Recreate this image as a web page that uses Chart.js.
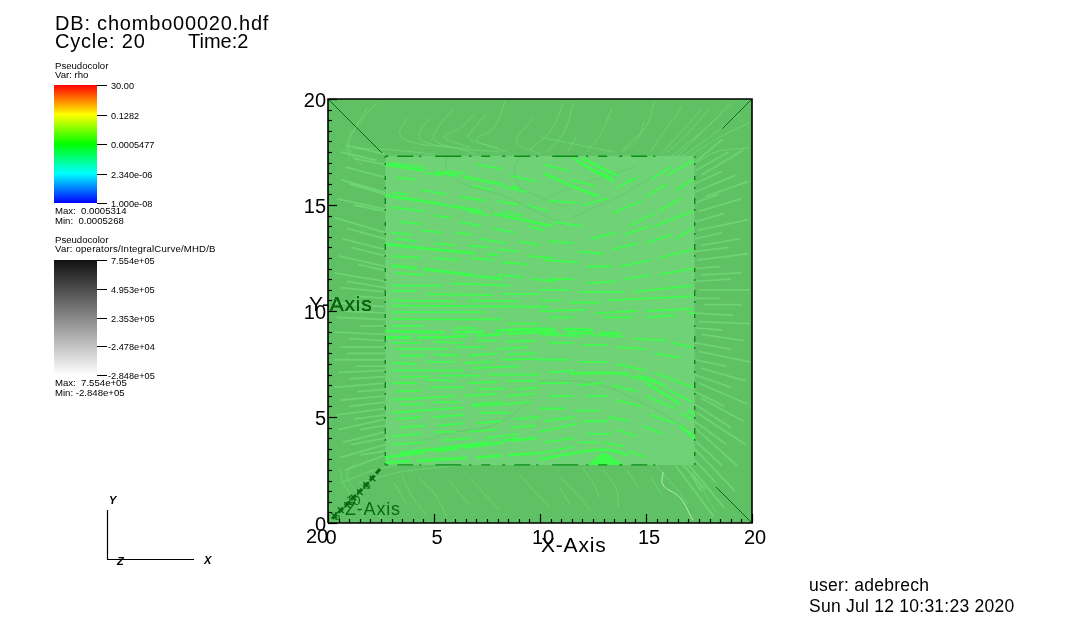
<!DOCTYPE html>
<html>
<head>
<meta charset="utf-8">
<style>
  html, body { margin: 0; padding: 0; background: #fff; }
  canvas { display: block; }
</style>
<script src="https://cdn.jsdelivr.net/npm/chart.js@4/dist/chart.umd.js"></script>
</head>
<body>
<canvas id="plot" width="1080" height="622"></canvas>
<script>
// axis labels
const axisLabels = [0, 5, 10, 15, 20];

// legend texts
const rhoTicks = ['30.00', '0.1282', '0.0005477', '2.340e-06', '1.000e-08'];
const curveTicks = ['7.554e+05', '4.953e+05', '2.353e+05', '-2.478e+04', '-2.848e+05'];

// the two nested squares of the volume
const outerTop = [[0, 20], [20, 20]];
const innerTop = [[2.7, 17.3], [17.3, 17.3]];
const frame = [[0, 0], [20, 0], [20, 20], [0, 20], [0, 0]];

// box edges seen through the field lines
const flatEdges = [
  [[2.7, 17.3], [15.9, 17.3]],
  [[2.7, 2.74], [15.9, 2.74]]
];
const upEdges = [
  [[2.7, 2.74], [2.7, 17.3]],
  [[17.3, 2.74], [17.3, 17.3]]
];
const cornerEdges = [
  [[0, 20], [2.55, 17.45]],
  [[20, 20], [18.6, 18.6]],
  [[20, 0], [18.3, 1.7]]
];
const zAxisLine = [[0.2, 0.2], [0.9, 0.9], [1.7, 1.7], [2.5, 2.6]];
const zAxisTicks = [[0.3, 0.35], [0.6, 0.6], [0.9, 0.85], [1.2, 1.2], [1.5, 1.45], [1.8, 1.8], [2.1, 2.1]];

// pale lines left and right of the box, x1 y1 x2 y2
const sideRows = [
  [0.9, 17.8, 2.7, 17.4], [0.6, 17.5, 2.3, 17.1], [1.2, 17.2, 2.7, 16.9], [0.8, 16.8, 2.7, 16.3],
  [0.6, 16.2, 2.7, 15.6], [1, 16, 2.7, 15.5], [0.4, 15.3, 2.7, 14.8], [1.2, 15, 2.7, 14.7],
  [0.3, 14.4, 2.7, 13.7], [0.9, 13.9, 2.7, 13.4], [0.7, 13.4, 2.7, 12.9], [1.1, 13, 2.7, 12.6],
  [0.5, 12.6, 2.7, 12.1], [1.4, 12.2, 2.7, 11.9], [0.3, 11.8, 2.7, 11.4], [0.9, 11.4, 2.7, 11.1],
  [0.6, 11.1, 2.7, 10.9], [1.3, 10.7, 2.7, 10.6], [0.2, 10.4, 2.7, 10.2], [0.8, 10, 2.7, 9.9],
  [0.4, 9.7, 2.7, 9.6], [1.5, 9.3, 2.7, 9.3], [0.3, 9, 2.7, 8.9], [1, 8.7, 2.7, 8.6],
  [0.6, 8.3, 2.7, 8.3], [0.9, 8, 2.7, 8], [0.3, 7.7, 2.7, 7.7], [1.3, 7.4, 2.7, 7.4],
  [0.5, 7.1, 2.7, 7.2], [1, 6.8, 2.7, 6.9], [0.3, 6.4, 2.7, 6.6], [1.4, 6.2, 2.7, 6.3],
  [0.6, 5.8, 2.7, 6], [1, 5.5, 2.7, 5.7], [0.4, 5.1, 2.7, 5.4], [1.2, 4.9, 2.7, 5.1],
  [0.5, 4.4, 2.7, 4.9], [1.5, 4.4, 2.7, 4.6], [0.7, 3.8, 2.7, 4.3], [1.1, 3.7, 2.7, 4],
  [0.6, 3.1, 2.7, 3.7], [1.5, 3.2, 2.7, 3.4], [0.8, 2.5, 2.7, 3.2],
  [17.3, 17, 18.6, 18.1], [17.3, 16.6, 18.9, 17.5], [17.6, 16.4, 19.6, 17.6], [17.3, 16, 18.6, 16.6],
  [17.3, 15.6, 19.2, 16.4], [17.8, 15.4, 19.8, 16.1], [17.3, 15.1, 18.4, 15.5], [17.5, 14.7, 19.5, 15.3],
  [17.3, 14.2, 18.7, 14.6], [17.4, 13.8, 19.8, 14.3], [17.3, 13.4, 18.6, 13.7], [17.6, 13.1, 19.4, 13.4],
  [17.3, 12.8, 18.9, 13], [17.4, 12.4, 19.8, 12.7], [17.3, 12, 18.5, 12.1], [17.6, 11.7, 19.5, 11.8],
  [17.3, 11.4, 19, 11.5], [17.5, 11, 19.9, 11], [17.3, 10.6, 18.5, 10.6], [17.7, 10.3, 19.5, 10.3],
  [17.3, 9.9, 19.1, 9.8], [17.5, 9.5, 19.9, 9.4], [17.3, 9.2, 18.6, 9.1], [17.6, 8.9, 19.6, 8.6],
  [17.3, 8.5, 19, 8.2], [17.5, 8.1, 19.9, 7.6], [17.3, 7.7, 18.8, 7.4], [17.6, 7.3, 19.7, 6.7],
  [17.3, 7, 19, 6.4], [17.5, 6.6, 19.8, 5.6], [17.3, 6.2, 18.7, 5.5], [17.6, 5.9, 19.6, 4.8],
  [17.3, 5.6, 19, 4.5], [17.4, 5.2, 19.7, 3.7], [17.3, 4.8, 18.8, 3.7], [17.3, 4.5, 19.3, 2.7],
  [17.2, 4, 18.6, 2.7], [17.2, 3.6, 19.2, 1.5], [17, 3.3, 18.3, 1.9], [16.8, 3, 18.7, 0.7],
  [16.6, 2.9, 17.8, 1.6], [16.4, 2.7, 18.2, 0.3], [17, 2.5, 17.6, 1.5], [16.8, 4.1, 17.3, 3.7]
];

// hooks above the box
const topLines = [
  [[1.84, 19.6], [1, 18], [1.1, 17.4], [1.6, 16.9]],
  [[2.3, 19.8], [1.5, 18.9], [0.9, 18], [1, 17.2]],
  [[3.7, 19.1], [3.4, 18.3], [4.2, 17.9], [5.9, 17.7], [7, 17.4]],
  [[4.8, 19.1], [4.3, 18.4], [4.5, 18], [5.8, 17.7]],
  [[5.9, 19.5], [5.3, 18.8], [5, 18.1], [6.1, 17.7], [8.1, 17.5]],
  [[6.9, 19.3], [6.2, 18.6], [5.5, 18.2], [6.7, 17.7]],
  [[7.5, 19.3], [6.7, 18.4], [6.7, 18.1], [8, 17.7]],
  [[8.4, 20], [7.8, 18.6], [7, 18.1], [8.4, 17.5]],
  [[9.7, 19.1], [8.9, 18], [10, 17.4]],
  [[11.1, 19.8], [10.5, 18.5], [9.5, 17.6]],
  [[11.6, 19.8], [11.1, 18.4], [10.3, 17.5]],
  [[11.7, 18.2], [11.3, 17.5]],
  [[13.4, 19.6], [12.9, 18.4], [12.2, 17.5]],
  [[14.9, 18.9], [14.6, 18.1], [13.9, 17.5]],
  [[15.4, 19.9], [15, 18.7], [14.2, 17.9], [13.8, 17.5]],
  [[16.7, 19.6], [15.8, 18.4], [15.2, 17.5]],
  [[18, 19.6], [17.1, 18.5], [16, 17.5]],
  [[19, 19.8], [17.7, 18.5], [16.5, 17.3]],
  [[19.9, 18.9], [18.3, 18.1], [16.9, 17.2]],
  [[19.9, 17.7], [18.3, 17.5], [17.4, 17]],
  [[17.6, 19.5], [16.8, 18.6], [15.7, 17.4]],
  [[18.6, 19.3], [17.2, 18.1], [16.2, 17.3]],
  [[19.4, 19.3], [18, 18.2], [16.7, 17.3]],
  [[1.2, 17.7], [3, 17.6], [5, 17.4]],
  [[10, 18.2], [11.5, 17.9], [13.5, 17.5]]
];

// hooks below the box
const bottomLines = [
  [[0.6, 2.5], [0.7, 1.9], [1.4, 0.9], [1.7, 0.3]],
  [[1.3, 2.9], [0.9, 2.2], [1.7, 1.1], [2.6, 0.15]],
  [[3.1, 1.9], [3.7, 0.9]],
  [[3.5, 2.2], [4, 1.2], [4.7, 0.3]],
  [[4.3, 2.1], [5, 1.4], [5.6, 0.3]],
  [[5.7, 2], [6.7, 0.85]],
  [[6.7, 2.1], [8.1, 0.6]],
  [[9, 2.3], [10.5, 0.7]],
  [[10.9, 2.2], [11.7, 1.4], [12.4, 0.6]],
  [[10.9, 1.7], [11.4, 0.9]],
  [[12, 2.6], [12.5, 1.9], [12.8, 1.2]],
  [[13, 2.5], [13.6, 1.6], [13.7, 0.75]],
  [[14.1, 2.5], [14.6, 1.7]],
  [[15.2, 2.2], [15.7, 1.4]],
  [[17.2, 2.4], [18.3, 0.5]],
  [[0.6, 1.9], [2.6, 2.6], [5, 2.8], [8.1, 3.1]],
  [[1.5, 1.9], [3.4, 2.4], [6, 2.7]],
  [[15.4, 2.8], [16.2, 1.9], [17, 0.9]]
];
const brightHook = [[15.8, 2.4], [15.8, 1.8], [16.6, 1.2], [17.2, 0.15]];

// bright field lines inside the box, x1 y1 x2 y2
const brightRows = [
  // upper left
  [2.9, 17, 4.5, 16.8], [5.5, 16.6, 6.5, 16.5], [7, 16.9, 8.2, 16.7], [8.6, 16.4, 9.8, 16.1],
  [3.2, 16.3, 4.2, 16.2], [4.6, 16.5, 5.4, 16.4], [6.8, 15.9, 7.8, 15.7], [8.2, 15.9, 9.4, 15.6],
  [3, 15.6, 3.8, 15.5], [4.4, 15.7, 5.6, 15.5], [6.2, 15.4, 7.4, 15.2], [8, 15.2, 9, 15],
  [9.4, 15, 10.4, 14.7], [3, 14.9, 4.6, 14.7], [5, 15.1, 6, 14.9], [6.6, 14.7, 7.6, 14.5],
  [8.2, 14.7, 9.2, 14.5], [3.4, 14.2, 4.4, 14.1], [5, 14.5, 5.8, 14.4], [6.2, 14.2, 7.2, 14],
  [7.8, 13.9, 8.8, 13.7], [9.4, 14, 10.2, 13.8], [3, 13.7, 4, 13.6], [4.4, 13.8, 5.4, 13.7],
  [6, 13.7, 6.8, 13.6], [7.2, 13.4, 8.4, 13.2], [9, 13.3, 10, 13.1], [3.2, 13.4, 4.2, 13.3],
  [5, 13.2, 6, 13.1], [6.6, 13.1, 7.6, 13], [8, 12.9, 9, 12.8], [9.4, 12.6, 10.6, 12.5],
  [3, 12.6, 4.4, 12.5], [5, 12.5, 6.2, 12.4], [6.8, 12.5, 7.8, 12.4], [8.2, 12.3, 9.4, 12.2],
  [3.2, 11.8, 4.6, 11.7], [5, 11.9, 6, 11.8], [6.4, 11.7, 7.4, 11.6], [8, 11.7, 9.2, 11.6],
  [9.6, 11.5, 10.8, 11.4], [3, 11.2, 5.4, 11.2], [5.8, 11.3, 8.6, 11.2], [3, 10.95, 4.2, 10.95],
  [4.6, 10.8, 7.8, 10.75], [8.2, 10.8, 10, 10.8], [3, 10.5, 6, 10.45], [6.6, 10.5, 9, 10.45],
  [3, 10.25, 10.4, 10.2],
  // upper right
  [10.2, 16.9, 11.4, 16.6], [12, 16.9, 13.4, 16.3], [11.4, 16.2, 12.6, 15.9], [13.6, 15.8, 14.6, 16.3],
  [10.4, 15.2, 11.8, 15.1], [12, 15, 13.2, 15.3], [13.4, 14.6, 14.8, 15.2], [15, 15.4, 16, 16],
  [16, 16.4, 17.2, 17.1], [15.2, 16.2, 16.2, 16.8], [14.2, 14, 15.4, 14.6], [15.6, 14.7, 16.6, 15.3],
  [16.4, 15.7, 17.2, 16.2], [10.6, 14.2, 12, 14], [12.4, 13.4, 13.6, 13.7], [14, 13.6, 15.2, 14],
  [15.4, 14, 17.2, 14.7], [10.4, 13.3, 11.6, 13.2], [11.8, 12.8, 13, 12.7], [13.4, 12.9, 14.6, 13.2],
  [15, 13.2, 16.2, 13.6], [16.4, 13.4, 17.2, 13.9], [10.2, 12.4, 11.8, 12.3], [12.2, 12.1, 13.4, 12.1],
  [13.8, 12.1, 15.2, 12.4], [15.6, 12.5, 17.2, 12.9], [10.4, 11.5, 11.6, 11.5], [12.2, 11.3, 13.6, 11.4],
  [14, 11.5, 15.2, 11.7], [15.6, 11.7, 17.2, 12], [10, 11, 11.4, 11], [11.8, 10.9, 14, 10.9],
  [14.4, 10.9, 17.2, 11.2], [10, 10.5, 11, 10.5], [11.4, 10.4, 12.8, 10.4], [13.2, 10.5, 17.2, 10.7],
  [10, 10, 12.2, 10.05], [12.6, 9.9, 14.6, 10], [15, 10, 17.2, 10.1], [10.4, 9.7, 11.6, 9.7],
  [13, 9.7, 14.4, 9.7], [15, 9.7, 16.4, 9.8], [17, 9.9, 17.3, 9.9],
  // lower left
  [3, 9.95, 7.4, 9.95], [3, 9.62, 8.2, 9.6], [3, 9.3, 4.6, 9.3], [6, 9.2, 7, 9.2], [8.4, 9.4, 10, 9.4],
  [3, 8.5, 4.4, 8.5], [5, 8.55, 6.4, 8.5], [7, 8.6, 8, 8.6], [8.4, 8.55, 9.8, 8.6], [3.2, 8.2, 5.6, 8.2],
  [6, 8.3, 7.4, 8.3], [8, 8.2, 9.4, 8.3], [3.4, 7.9, 4.6, 7.9], [5, 7.95, 6.2, 7.9], [6.6, 7.9, 8, 8],
  [8.4, 7.95, 9.8, 8], [3, 7.55, 4.2, 7.5], [4.6, 7.6, 6, 7.6], [6.4, 7.55, 7.8, 7.6], [8.2, 7.7, 10, 7.75],
  [3, 7.2, 6.4, 7.2], [6.8, 7.3, 9, 7.4], [3.4, 6.9, 4.8, 6.9], [5.2, 6.95, 7.2, 6.95], [7.6, 7, 10, 7],
  [3, 6.6, 4.2, 6.6], [4.6, 6.75, 6, 6.7], [6.6, 6.6, 8, 6.65], [8.4, 6.7, 9.8, 6.7], [3.2, 6.2, 4.4, 6.25],
  [4.8, 6.4, 6.4, 6.4], [7, 6.3, 8.4, 6.35], [8.8, 6.3, 10, 6.4], [3, 5.8, 6, 6], [6.4, 6, 8, 6.1],
  [8.4, 6, 9.8, 6.1], [3.4, 5.6, 4.6, 5.6], [5, 5.7, 6.2, 5.7], [6.8, 5.6, 8.2, 5.7], [3, 5.2, 6.4, 5.45],
  [6.8, 5.5, 9.6, 5.7], [3.2, 4.9, 4.4, 5], [5, 5, 6.4, 5.1], [7.2, 5.2, 8.6, 5.2], [3.4, 4.5, 4.6, 4.6],
  [5.2, 4.6, 6.4, 4.7], [7, 4.7, 8.2, 4.8], [8.8, 4.9, 10, 5], [3, 4.1, 4.4, 4.2], [5, 4.3, 6, 4.3],
  [6.6, 4.3, 8, 4.4], [8.6, 4.5, 9.8, 4.6], [3, 3.7, 4.6, 3.8], [5.4, 3.9, 6.8, 4], [7.4, 4, 9, 4.2],
  // lower right
  [10, 8.9, 12, 8.8], [12.4, 8.85, 14, 8.8], [14.4, 8.7, 16, 8.6], [16.2, 8.5, 17.2, 8.3],
  [10.4, 8.5, 11.6, 8.5], [12, 8.4, 13.2, 8.4], [13.6, 8.3, 15, 8.2], [15.4, 8, 16.6, 7.8],
  [10, 7.7, 11.4, 7.7], [11.8, 7.6, 13.2, 7.6], [13.6, 7.5, 15, 7.2], [15.4, 7.1, 17.2, 6.4],
  [10.4, 7.1, 11.6, 7.2], [14.2, 6.9, 15.6, 6.6], [16, 6.3, 17.2, 5.7], [10, 6.6, 11.4, 6.6],
  [11.8, 6.5, 13, 6.6], [13.4, 6.5, 14.6, 6.2], [15, 6, 16.4, 5.4], [16.6, 5.2, 17.2, 4.9],
  [10.4, 6, 11.6, 6], [12.2, 6, 13.2, 6], [13.6, 5.8, 14.8, 5.5], [15.2, 5.1, 16.4, 4.7],
  [10, 5.4, 11.2, 5.4], [11.6, 5.3, 12.8, 5.3], [13.2, 5, 14.2, 4.8], [14.8, 4.6, 15.8, 4.2],
  [10.2, 4.8, 11.6, 5], [12, 4.8, 13.2, 4.8], [13.6, 4.4, 14.6, 4.1], [10, 4.3, 11.8, 4.7],
  [12.2, 4.2, 13.4, 4.2], [10.2, 3.8, 11.6, 4], [10, 3.3, 11.6, 3.6], [11.8, 3.8, 12.8, 3.8],
  [13, 3.8, 14, 3.6], [14.2, 3.4, 15, 3.1]
];

// the stronger strands that show as solid bands
const thickLines = [
  [[2.7, 15.45], [5.6, 15], [8.7, 14.4], [10.6, 14]],
  [[2.7, 16.9], [6, 16.4], [9, 15.8]],
  [[2.7, 13.15], [5.6, 12.85], [8, 12.65]],
  [[3, 12.15], [5.6, 11.85], [8.2, 11.5]],
  [[11.6, 17.2], [12.4, 16.7], [13.5, 16.1]],
  [[12, 17.2], [13, 16.7], [14.3, 16.1]],
  [[10.2, 16.5], [11.5, 15.9], [12.8, 15.4]],
  [[2.7, 8.75], [5.6, 8.77], [10, 9], [11.4, 8.96], [13.8, 8.96]],
  [[2.7, 9.05], [6, 9], [10, 9.15], [13, 9.1]],
  [[2.7, 3.1], [5.6, 3.45], [10, 4.05]],
  [[3.4, 3.3], [6, 3.6], [9, 4]],
  [[2.7, 2.85], [7, 3.1], [10, 3.3]],
  [[11.4, 7.05], [13.9, 7.05], [15.4, 6.7], [16.4, 6.1]],
  [[15, 6.6], [16, 6], [17.3, 5.1]],
  [[10, 3], [11.6, 3.3], [13.2, 3.45], [14.7, 3]]
];
const archPatch = [[12.3, 2.75], [13, 3.3], [13.9, 2.75]];
const cornerWedge = [[16.6, 4.6], [17.3, 4]];

// thin darker lines running through the box
const faintLines = [
  [[5.6, 17.3], [5.6, 16.7], [6.4, 16], [8.4, 15.4], [10, 14.6], [11.2, 14]],
  [[9.1, 17.3], [8.8, 16.7], [9.1, 15.8], [10, 15.4], [11.4, 14.8]],
  [[3.7, 3.1], [4, 3.6], [5.6, 4.2], [8, 4.7], [9.7, 5.9]],
  [[10, 15.2], [12, 16], [14.5, 16.8]],
  [[11.5, 14.4], [13.5, 15.3], [15.5, 16.4]],
  [[10, 6.7], [12.5, 6.6], [15, 5.6], [17, 4.4]]
];

const bandDashes = [[60, 8, 30, 12], [40, 10, 24, 5], [90, 14], [26, 6, 50, 9]];

const PALE = 'rgba(112, 216, 118, 0.8)';
const BRIGHT = '#3dfc4b';
const TEXT = 'Liberation Sans';

const layers = [];
function addLine(points, style) {
  layers.push(Object.assign({
    data: points,
    showLine: true,
    pointRadius: 0,
    borderWidth: 1,
    tension: 0.4,
    fill: false
  }, style));
}
// x1 y1 x2 y2 rows become one broken line
function rowsToPoints(rows) {
  const pts = [];
  rows.forEach(r => {
    pts.push({ x: r[0], y: r[1] }, { x: r[2], y: r[3] }, { x: r[2], y: null });
  });
  return pts;
}

addLine(outerTop, { borderColor: '#5fc163', backgroundColor: '#5fc163', fill: 'origin', tension: 0 });
addLine(rowsToPoints(sideRows), { borderColor: PALE, borderWidth: 1.8, tension: 0, spanGaps: false });
topLines.forEach(c => addLine(c, { borderColor: PALE }));
bottomLines.forEach(c => addLine(c, { borderColor: PALE }));
addLine(brightHook, { borderColor: '#b5eeb5' });
addLine(innerTop, { borderColor: '#6fd277', backgroundColor: '#6fd277', fill: { value: 2.74 }, tension: 0 });
faintLines.forEach(c => addLine(c, { borderColor: '#66c96c' }));
addLine(rowsToPoints(brightRows), { borderColor: BRIGHT, borderWidth: 1.8, tension: 0, spanGaps: false });
thickLines.forEach((c, i) => addLine(c, {
  borderColor: BRIGHT,
  borderWidth: 2.8,
  borderDash: bandDashes[i % bandDashes.length]
}));
addLine(archPatch, { borderColor: BRIGHT, backgroundColor: BRIGHT, fill: { value: 2.74 }, tension: 0.2 });
addLine(cornerWedge, { borderColor: BRIGHT, borderWidth: 3, tension: 0 });
flatEdges.forEach(e => addLine(e, { borderColor: '#0a8f14', borderWidth: 1.3, borderDash: [3, 9, 16, 6, 2, 14, 26, 8, 2, 10, 9, 12], tension: 0 }));
upEdges.forEach(e => addLine(e, { borderColor: '#0a7f14', borderWidth: 1.3, borderDash: [2, 7, 4, 11, 2, 5, 6, 9], tension: 0 }));
cornerEdges.forEach(e => addLine(e, { borderColor: '#0b6a12', tension: 0 }));
addLine(zAxisLine, { borderColor: '#0b6a12', borderWidth: 3, borderDash: [6, 3], tension: 0 });
addLine(zAxisTicks, {
  showLine: false,
  pointStyle: 'crossRot',
  pointRadius: 4,
  pointBorderColor: '#0b6a12',
  pointBorderWidth: 1.4
});
addLine(frame, { borderColor: '#000', borderWidth: 1.6, tension: 0, clip: false });

// axis tick marks point into the plot
const inwardTicks = {
  id: 'inwardTicks',
  afterDatasetsDraw(chart) {
    const { ctx, chartArea, scales } = chart;
    ctx.save();
    ctx.strokeStyle = '#000';
    ctx.lineWidth = 1.2;
    scales.x.ticks.forEach(t => {
      const x = Math.round(scales.x.getPixelForValue(t.value)) + 0.5;
      const len = t.value % 5 === 0 ? 9 : 4;
      ctx.beginPath();
      ctx.moveTo(x, chartArea.bottom);
      ctx.lineTo(x, chartArea.bottom - len);
      ctx.stroke();
    });
    scales.y.ticks.forEach(t => {
      const y = Math.round(scales.y.getPixelForValue(t.value)) + 0.5;
      const len = t.value % 5 === 0 ? 9 : 4;
      ctx.beginPath();
      ctx.moveTo(chartArea.left, y);
      ctx.lineTo(chartArea.left + len, y);
      ctx.stroke();
    });
    ctx.restore();
  }
};

function label(ctx, text, x, y, font, color) {
  ctx.font = font;
  ctx.fillStyle = color || '#000';
  ctx.fillText(text, x, y);
}

function colorBar(ctx, top, bottom, stops, ticks) {
  const g = ctx.createLinearGradient(0, top, 0, bottom);
  stops.forEach((c, i) => g.addColorStop(i / (stops.length - 1), c));
  ctx.fillStyle = g;
  ctx.fillRect(54, top, 43, bottom - top);
  ctx.strokeStyle = '#000';
  ctx.lineWidth = 1;
  ticks.forEach((t, i) => {
    const y = Math.round(top + (bottom - top) * i / (ticks.length - 1)) + 0.5;
    ctx.beginPath();
    ctx.moveTo(97, y);
    ctx.lineTo(107, y);
    ctx.stroke();
    const neg = t.charAt(0) === '-';
    label(ctx, t, neg ? 108 : 111, y + 3.5, '9.2px "' + TEXT + '"');
  });
}

// everything around the plot: titles, colour bars, triad, user stamp
const annotations = {
  id: 'annotations',
  afterDraw(chart) {
    const { ctx, chartArea, scales } = chart;
    ctx.save();
    ctx.textAlign = 'left';
    ctx.textBaseline = 'alphabetic';

    ctx.letterSpacing = '0.8px';
    label(ctx, 'DB: chombo00020.hdf', 55, 30, '20px "' + TEXT + '"');
    label(ctx, 'Cycle: 20', 55, 48, '20px "' + TEXT + '"');
    ctx.letterSpacing = '0px';
    label(ctx, 'Time:2', 188, 48, '20px "' + TEXT + '"');

    const small = '9.6px "' + TEXT + '"';
    label(ctx, 'Pseudocolor', 55, 69, small);
    label(ctx, 'Var: rho', 55, 78, small);
    colorBar(ctx, 85, 203, ['#ff0000', '#ffff00', '#00ff00', '#00ffff', '#0000ff'], rhoTicks);
    label(ctx, 'Max:  0.0005314', 55, 214, small);
    label(ctx, 'Min:  0.0005268', 55, 224, small);

    label(ctx, 'Pseudocolor', 55, 243, small);
    ctx.letterSpacing = '0.2px';
    label(ctx, 'Var: operators/IntegralCurve/MHD/B', 55, 252, small);
    ctx.letterSpacing = '0px';
    colorBar(ctx, 260, 375, ['#111111', '#ffffff'], curveTicks);
    label(ctx, 'Max:  7.554e+05', 55, 386, small);
    label(ctx, 'Min: -2.848e+05', 55, 396, small);

    // triad
    ctx.strokeStyle = '#000';
    ctx.lineWidth = 1.2;
    ctx.beginPath();
    ctx.moveTo(107.5, 510);
    ctx.lineTo(107.5, 559.5);
    ctx.lineTo(194, 559.5);
    ctx.stroke();
    const triad = 'italic bold 11px "' + TEXT + '"';
    label(ctx, 'Y', 109, 504, triad);
    label(ctx, 'Z', 117, 565, triad);
    label(ctx, 'X', 204, 564, triad);

    // axis titles, dark green where the volume lies on top of them
    ctx.textBaseline = 'middle';
    ctx.letterSpacing = '0.8px';
    const title = '21px "' + TEXT + '"';
    label(ctx, 'X-Axis', 541, 546, title);
    label(ctx, 'Y-Axis', 309, 305, title);
    ctx.beginPath();
    ctx.rect(chartArea.left, chartArea.top, chartArea.right - chartArea.left, chartArea.bottom - chartArea.top);
    ctx.clip();
    ctx.fillStyle = '#0b6a12';
    ctx.fillText('Y-Axis', 309, 305);
    label(ctx, 'Z-Axis', 345, 510, '18px "' + TEXT + '"', '#0b6a12');
    ctx.letterSpacing = '0px';
    label(ctx, '10', scales.x.getPixelForValue(0.85), scales.y.getPixelForValue(1), '13px "' + TEXT + '"', '#0b6a12');
    label(ctx, '5', scales.x.getPixelForValue(0.3), scales.y.getPixelForValue(0.3), '11px "' + TEXT + '"', '#0b6a12');
    label(ctx, '15', scales.x.getPixelForValue(1.6), scales.y.getPixelForValue(1.7), '8px "' + TEXT + '"', '#0b6a12');
    ctx.restore();

    ctx.save();
    ctx.textBaseline = 'alphabetic';
    label(ctx, '20', 306, 543, '20px "' + TEXT + '"');
    ctx.letterSpacing = '0.25px';
    label(ctx, 'user: adebrech', 809, 591, '17.5px "' + TEXT + '"');
    label(ctx, 'Sun Jul 12 10:31:23 2020', 809, 612, '17.5px "' + TEXT + '"');
    ctx.restore();
  }
};

const tickFont = { family: TEXT, size: 20 };

new Chart(document.getElementById('plot'), {
  type: 'scatter',
  data: { datasets: layers.slice().reverse() },
  options: {
    responsive: false,
    animation: false,
    events: [],
    layout: { padding: { left: 278, top: 99, right: 328, bottom: 49 } },
    plugins: { legend: { display: false }, tooltip: { enabled: false }, title: { display: false } },
    scales: {
      x: {
        type: 'linear',
        min: 0,
        max: 20,
        grid: { display: false, drawTicks: false },
        border: { display: false },
        afterFit(s) { s.height = 50; },
        ticks: {
          stepSize: 0.5,
          autoSkip: false,
          maxRotation: 0,
          padding: 3,
          labelOffset: 3,
          color: '#000',
          font: tickFont,
          callback: v => axisLabels.includes(v) ? String(v) : ''
        }
      },
      y: {
        type: 'linear',
        min: 0,
        max: 20,
        grid: { display: false, drawTicks: false },
        border: { display: false },
        afterFit(s) { s.width = 50; },
        ticks: {
          stepSize: 0.5,
          autoSkip: false,
          padding: 2,
          labelOffset: 2,
          color: '#000',
          font: tickFont,
          callback: v => axisLabels.includes(v) ? String(v) : ''
        }
      }
    }
  },
  plugins: [inwardTicks, annotations]
});
</script>
</body>
</html>
